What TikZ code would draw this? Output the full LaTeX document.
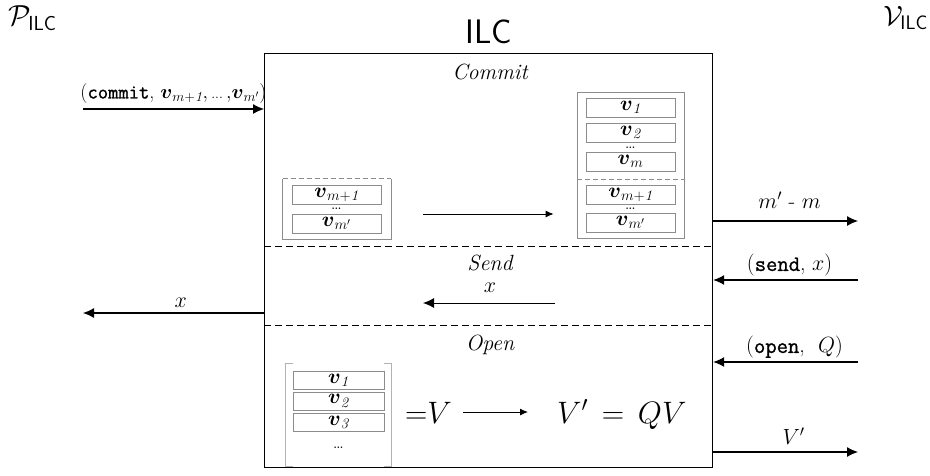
\RequirePackage{fix-cm}
\documentclass[tikz,border=0pt]{standalone}
\usepackage{amsmath,amssymb}
\usepackage{fontspec}
\newfontfamily\ttbold{Latin Modern Mono}[FakeBold=1.2]
\newcommand{\tb}[1]{{\ttbold #1}}
\usetikzlibrary{arrows.meta}
\definecolor{boxgray}{gray}{0.55}
\definecolor{brgray}{gray}{0.7}
\begin{document}
\begin{tikzpicture}[x=1pt,y=-1pt,
  every node/.style={font=\fontsize{22}{25}\selectfont},
  lbl/.style={inner sep=0pt},
  vbox/.style={draw=boxgray, line width=0.6pt, minimum width=89pt, minimum height=19pt, inner sep=0pt, font=\fontsize{21}{21}\selectfont},
  frameline/.style={draw=boxgray, line width=0.8pt},
  sep/.style={dash pattern=on 7pt off 4pt, line width=0.9pt},
  gsep/.style={draw=boxgray, dash pattern=on 5pt off 3pt, line width=0.8pt},
  ext/.style={line width=1.1pt, -{Latex[length=11pt,width=10pt]}},
  int/.style={line width=0.9pt, -{Latex[length=8pt,width=7pt]}},
  intb/.style={line width=0.9pt, -{Latex[length=11pt,width=10pt]}},
  dotsn/.style={inner sep=0pt, font=\fontsize{19}{19}\selectfont},
]
\useasboundingbox (0,0) rectangle (930,475);

% titles
\node[lbl, font=\fontsize{34}{36}\selectfont\sffamily] (title) at (489,31.5) {ILC};
\node[lbl, anchor=west, font=\fontsize{29}{31}\selectfont] (P) at (8,18) {$\mathcal{P}_{\textsf{ILC}}$};
\node[lbl, anchor=east, font=\fontsize{28}{30}\selectfont] (V) at (928,18) {$\mathcal{V}_{\textsf{ILC}}$};

% main box
\node[draw, line width=1.2pt, minimum width=448pt, minimum height=414pt, anchor=north west, inner sep=0pt] (ilc) at (264,53) {};
\coordinate (d1) at (264,246);
\coordinate (d2) at (264,325);
\draw[sep] (d1) -- (d1 -| ilc.east);
\draw[sep] (d2) -- (d2 -| ilc.east);

% section labels
\node[lbl] (commitlbl) at (490,72) {\itshape Commit};
\node[lbl] (sendlbl) at (490,263) {\itshape Send};
\node[lbl] (openlbl) at (490,345) {\itshape Open};

% left frame (commit)
\node[minimum width=108pt, minimum height=60pt, inner sep=0pt] (lf) at (337,209) {};
\draw[frameline] (lf.north west) -- (lf.south west) -- (lf.south east) -- (lf.north east);
\draw[gsep] (lf.north west) -- (lf.north east);
\node[vbox] (la) at (336.5,195) {$\boldsymbol{v}_{m+\mathit{1}}$};
\node[dotsn] (ld) at (336.5,209) {\ldots};
\node[vbox] (lb) at (336.5,223.5) {$\boldsymbol{v}_{m'}$};

% right frame (commit)
\node[frameline, minimum width=107pt, minimum height=146pt, inner sep=0pt] (rf) at (630.5,165) {};
\node[vbox] (r1) at (630.5,107.5) {$\boldsymbol{v}_{\mathit{1}}$};
\node[vbox] (r2) at (630.5,132.5) {$\boldsymbol{v}_{\mathit{2}}$};
\node[dotsn] (rd1) at (630.5,147.5) {\ldots};
\node[vbox] (r3) at (630.5,161.5) {$\boldsymbol{v}_{m}$};
\coordinate (rs) at (577,179);
\draw[gsep] (rs) -- (rs -| rf.east);
\node[vbox] (r4) at (630.5,195) {$\boldsymbol{v}_{m+\mathit{1}}$};
\node[dotsn] (rd2) at (630.5,209) {\ldots};
\node[vbox] (r5) at (630.5,222.5) {$\boldsymbol{v}_{m'}$};

\draw[int, shorten <=32pt, shorten >=23pt] (lf.east |- 0,214) -- (rf.west |- 0,214);

% send section
\node[lbl] (sx) at (490,288) {$x$};
\coordinate (sa) at (555,303);
\coordinate (sb) at (423,303);
\draw[intb] (sa) -- (sb);

% open section matrix
\node[minimum width=105pt, minimum height=102pt, inner sep=0pt] (mat) at (338.5,415) {};
\draw[brgray, line width=0.8pt] ([xshift=7pt]mat.north west) -- (mat.north west) -- (mat.south west) -- ([xshift=7pt]mat.south west);
\draw[brgray, line width=0.8pt] ([xshift=-7pt]mat.north east) -- (mat.north east) -- (mat.south east) -- ([xshift=-7pt]mat.south east);
\node[vbox, minimum width=91pt, minimum height=18pt] (m1) at (338.5,380.5) {$\boldsymbol{v}_{\mathit{1}}$};
\node[vbox, minimum width=91pt, minimum height=18pt] (m2) at (338.5,401) {$\boldsymbol{v}_{\mathit{2}}$};
\node[vbox, minimum width=91pt, minimum height=18pt] (m3) at (338.5,422.5) {$\boldsymbol{v}_{\mathit{3}}$};
\node[dotsn] (md) at (338.5,448) {\ldots};

\node[lbl, anchor=base east, font=\fontsize{31}{34}\selectfont] (eqV) at (452,423) {${=}V$};
\node[lbl, anchor=base west, font=\fontsize{31}{34}\selectfont] (eqR) at (557,423) {$V'\mskip 8mu{=}\mskip 8mu QV$};
\draw[int, shorten <=11pt, shorten >=29pt] (eqV.east |- 0,412) -- (eqR.west |- 0,412);

% external connectors
\coordinate (cin) at (83,109);
\draw[ext] (cin) -- (cin -| ilc.west) node[midway, above=5pt, inner sep=0pt, font=\fontsize{20}{22}\selectfont] (cl) {(\tb{commit}, $\boldsymbol{v}_{m+\mathit{1}}{,}\,{\scriptstyle\ldots}\,{,}\boldsymbol{v}_{m'}$)};

\coordinate (xout) at (83,313);
\draw[ext] (xout -| ilc.west) -- (xout) node[pos=0.46, above=5pt, inner sep=0pt] (xl) {$x$};

\coordinate (o1) at (858,221);
\draw[ext] (o1 -| ilc.east) -- (o1) node[midway, above=12pt, inner sep=0pt, xshift=4pt] (ml) {$m'$ - $m$};

\coordinate (i1) at (858,280);
\draw[ext] (i1) -- (i1 -| ilc.east) node[midway, above=3pt, inner sep=0pt, xshift=4pt] (sl) {(\tb{send}, $x$)};

\coordinate (i2) at (858,362);
\draw[ext] (i2) -- (i2 -| ilc.east) node[midway, above=3pt, inner sep=0pt, xshift=9pt] (ol) {(\tb{open}, \ $Q$)};

\coordinate (o2) at (858,452);
\draw[ext] (o2 -| ilc.east) -- (o2) node[midway, above=7pt, inner sep=0pt, xshift=8pt] (vl) {$V'$};
\end{tikzpicture}
\end{document}
